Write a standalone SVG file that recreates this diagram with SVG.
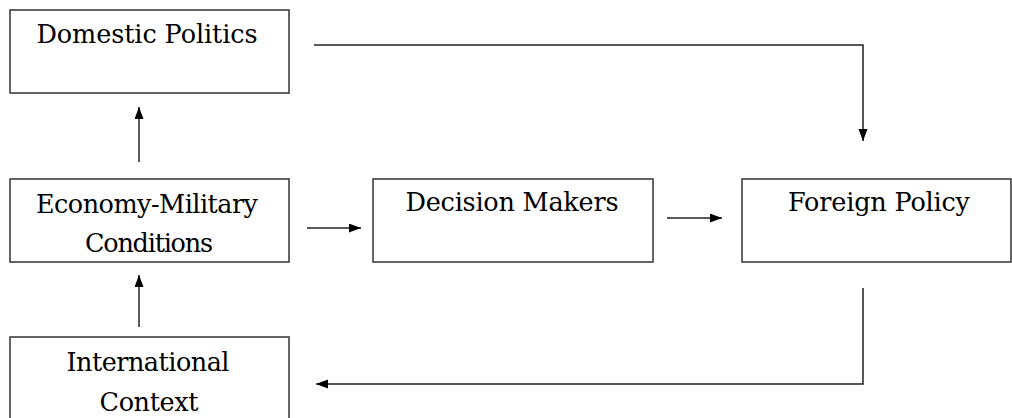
<svg xmlns="http://www.w3.org/2000/svg" width="1012" height="418" viewBox="0 0 1012 418">
  <style>
    .box { fill: #ffffff; stroke: #333333; stroke-width: 1.5; }
    .lbl { font-family: "DejaVu Serif", "Liberation Serif", serif; font-size: 25.5px; fill: #000000; text-anchor: middle; }
    .conn { fill: none; stroke: #222222; stroke-width: 1.5; }
    .arr { marker-end: url(#ah); }
  </style>
  <defs>
    <marker id="ah" markerUnits="userSpaceOnUse" markerWidth="13" markerHeight="10" refX="12" refY="4.5" orient="auto">
      <path d="M0,0 L12,4.5 L0,9 z" fill="#000000"/>
    </marker>
  </defs>
  <rect width="1012" height="418" fill="#ffffff"/>

  <g id="domestic-politics">
    <rect class="box" x="10" y="10" width="279" height="83"/>
    <text class="lbl" x="147" y="43" textLength="221">Domestic Politics</text>
  </g>

  <g id="economy-military">
    <rect class="box" x="10" y="179" width="279" height="83"/>
    <text class="lbl" x="147" y="213" textLength="222">Economy-Military</text>
    <text class="lbl" x="149" y="252" textLength="128">Conditions</text>
  </g>

  <g id="decision-makers">
    <rect class="box" x="373" y="179" width="280" height="83"/>
    <text class="lbl" x="512" y="211" textLength="213">Decision Makers</text>
  </g>

  <g id="foreign-policy">
    <rect class="box" x="742" y="179" width="269" height="83"/>
    <text class="lbl" x="879" y="211" textLength="182">Foreign Policy</text>
  </g>

  <g id="international-context">
    <rect class="box" x="10" y="337" width="279" height="90"/>
    <text class="lbl" x="148" y="371" textLength="163">International</text>
    <text class="lbl" x="149" y="411" textLength="99">Context</text>
  </g>

  <g id="connectors">
    <path class="conn arr" d="M314,45 H863 V141"/>
    <line class="conn arr" x1="139" y1="162" x2="139" y2="107"/>
    <line class="conn arr" x1="139" y1="327" x2="139" y2="275"/>
    <line class="conn arr" x1="307" y1="228" x2="361" y2="228"/>
    <line class="conn arr" x1="667" y1="218" x2="722" y2="218"/>
    <path class="conn arr" d="M863,288 V384 H316"/>
  </g>
</svg>
